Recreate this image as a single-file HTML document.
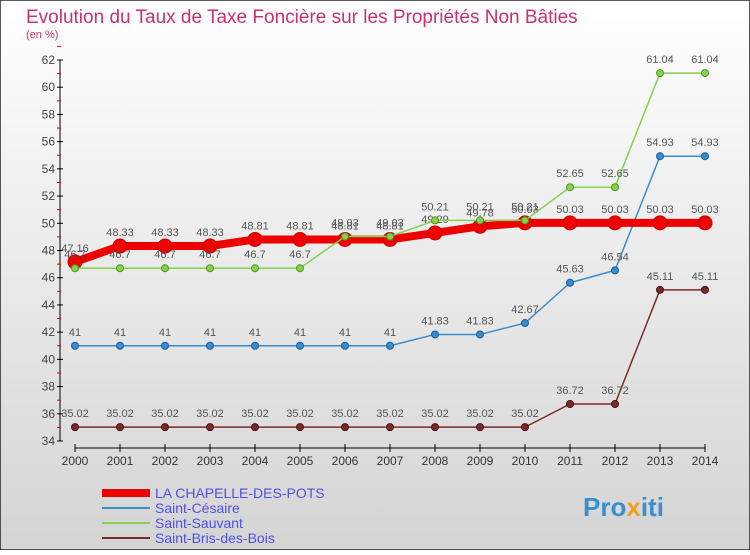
<!DOCTYPE html>
<html><head><meta charset="utf-8"><style>
body{margin:0;width:750px;height:550px;overflow:hidden;font-family:"Liberation Sans",sans-serif}
svg text{font-family:"Liberation Sans",sans-serif}
</style></head><body>
<svg id="c" width="750" height="550" xmlns="http://www.w3.org/2000/svg">
<defs><linearGradient id="bg" x1="0" y1="0" x2="0" y2="1"><stop offset="0" stop-color="#ffffff"/><stop offset="1" stop-color="#d4d4d4"/></linearGradient></defs>
<rect x="0" y="0" width="750" height="550" fill="url(#bg)" stroke="#222" stroke-width="1.5"/>
<text x="26" y="23" font-size="19" fill="#c8326e">Evolution du Taux de Taxe Foncière sur les Propriétés Non Bâties</text>
<text x="26" y="38" font-size="11" fill="#c8326e">(en %)</text>
<g id="axes"></g><g id="series"></g><g id="legend"></g>
<text x="583" y="516" font-size="26" font-weight="bold" fill="#3a8fd0">Pro<tspan fill="#f0a020">x</tspan>iti</text>
</svg>
<script>
const years=[2000,2001,2002,2003,2004,2005,2006,2007,2008,2009,2010,2011,2012,2013,2014];
const yTicks=[34,36,38,40,42,44,46,48,50,52,54,56,58,60,62];
const lcp=[47.16,48.33,48.33,48.33,48.81,48.81,48.81,48.81,49.29,49.78,50.03,50.03,50.03,50.03,50.03];
const cesaire=[41,41,41,41,41,41,41,41,41.83,41.83,42.67,45.63,46.54,54.93,54.93];
const sauvant=[46.7,46.7,46.7,46.7,46.7,46.7,49.03,49.03,50.21,50.21,50.21,52.65,52.65,61.04,61.04];
const bris=[35.02,35.02,35.02,35.02,35.02,35.02,35.02,35.02,35.02,35.02,35.02,36.72,36.72,45.11,45.11];
const seriesNames=["LA CHAPELLE-DES-POTS","Saint-Césaire","Saint-Sauvant","Saint-Bris-des-Bois"];
const NS="http://www.w3.org/2000/svg";
const X=i=>75+i*45, Y=v=>441-(v-34)*(381/28);
function mk(t,a,p){const e=document.createElementNS(NS,t);for(const k in a)e.setAttribute(k,a[k]);p.appendChild(e);return e;}
const ax=document.getElementById('axes');
let l=mk('line',{x1:60,y1:60,x2:60,y2:441,stroke:'#000'},ax);


yTicks.forEach(v=>{mk('line',{x1:57,y1:Y(v),x2:63,y2:Y(v),stroke:'#000'},ax);
 mk('line',{x1:57,y1:Y(v+1),x2:61,y2:Y(v+1),stroke:'#e00'},ax);
 const t=mk('text',{x:55,y:Y(v)+4,'font-size':12,'text-anchor':'end',fill:'#444'},ax);t.textContent=v;
 
 });
l=mk('line',{x1:75,y1:448,x2:705,y2:448,stroke:'#000'},ax);


years.forEach((y,i)=>{mk('line',{x1:X(i),y1:444,x2:X(i),y2:452,stroke:'#000'},ax);
 const t=mk('text',{x:X(i),y:465,'font-size':12,'text-anchor':'middle',fill:'#333'},ax);t.textContent=y;
 
 });
const sg=document.getElementById('series');
function draw(vals,color,dark,w,r,name){
 const g=mk('g',{},sg);
 
 
 mk('polyline',{points:vals.map((v,i)=>X(i)+','+Y(v)).join(' '),fill:'none',stroke:color,'stroke-width':w,'stroke-linejoin':'round'},g);
 vals.forEach((v,i)=>{const c=mk('circle',{cx:X(i),cy:Y(v),r:r,fill:color,stroke:dark,'stroke-width':1},g);
  
  
  const t=mk('text',{x:X(i),y:Y(v)-10,'font-size':11,'text-anchor':'middle',fill:'#555'},g);t.textContent=v;
  
  });
}
draw(bris,'#7a2a2a','#4a1010',1.5,3.5,'series-saint-bris');
draw(cesaire,'#3a8ccc','#1a5c9c',1.5,3.5,'series-saint-cesaire');
draw(lcp,'#ee0000','#cc0000',8,7,'series-la-chapelle');
draw(sauvant,'#88d050','#4a9a20',1.5,3.5,'series-saint-sauvant');
const lg=document.getElementById('legend');
const lc=[['#ee0000',8],['#3a8ccc',2],['#88d050',2],['#7a2a2a',2]];
seriesNames.forEach((n,i)=>{const y=493+i*15;
 mk('line',{x1:102,y1:y,x2:150,y2:y,stroke:lc[i][0],'stroke-width':lc[i][1]},lg);
 const t=mk('text',{x:155,y:y+5,'font-size':14,fill:'#5050e0'},lg);t.textContent=n;
 
 });
</script>
</body></html>
